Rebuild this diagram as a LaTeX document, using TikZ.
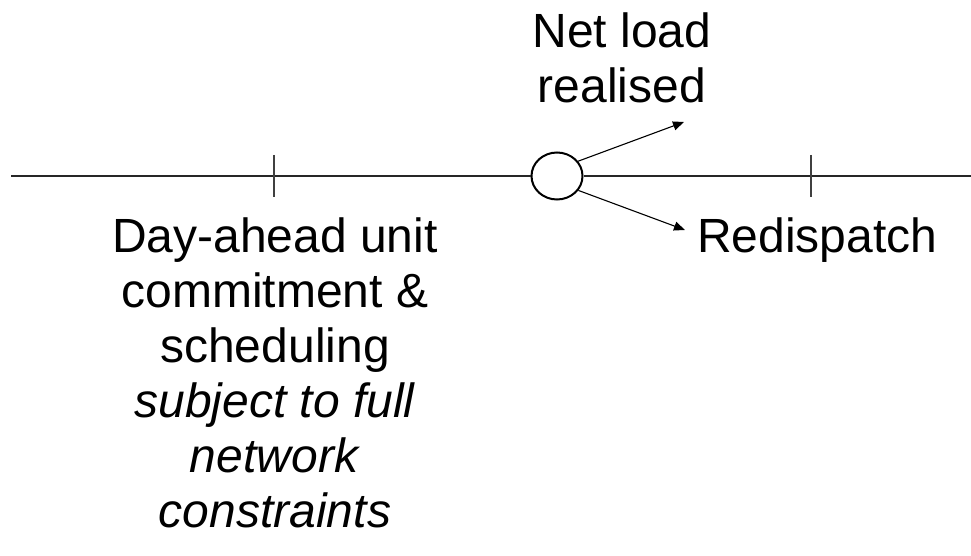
\documentclass[tikz,border=0pt]{standalone}
\usepackage{fontspec}
\setmainfont{Liberation Sans}
\usetikzlibrary{arrows.meta,shapes.geometric}
\begin{document}
\begin{tikzpicture}[x=1pt,y=-1pt,
  lbl/.style={inner sep=0pt, align=center, font={\fontsize{48}{55}\selectfont}},
  axis/.style={line width=1.4pt, black!85},
  tickmark/.style={line width=1.4pt, black!75},
  evt/.style={draw, ellipse, line width=2pt, minimum width=51pt, minimum height=47pt, inner sep=0pt},
  arr/.style={line width=1.1pt, -{Triangle[length=11pt,width=9pt]}}]
\useasboundingbox (0,0) rectangle (971,556);
\node[evt] (c) at (557,176) {};
\coordinate (L) at (11,176);
\coordinate (R) at (971,176);
\draw[axis] (L) -- (c.west);
\draw[axis] (c.east) -- (R);
\coordinate (t1a) at (274,155);
\coordinate (t1b) at (274,197);
\coordinate (t2a) at (811,155);
\coordinate (t2b) at (811,197);
\draw[tickmark] (t1a) -- (t1b);
\draw[tickmark] (t2a) -- (t2b);
\coordinate (a1) at (684,122);
\coordinate (a2) at (685,230);
\draw[arr] (c.35) -- (a1);
\draw[arr] (c.-34) -- (a2);
\node[lbl, anchor=base] (net) at (622,103) {Net load\\realised};
\node[lbl, anchor=base west] (red) at (697,252) {Redispatch};
\node[lbl, anchor=base] (da) at (275,527) {Day-ahead unit\\commitment \&\\scheduling\\\textit{subject to full}\\\textit{network}\\\textit{constraints}};
\end{tikzpicture}
\end{document}
